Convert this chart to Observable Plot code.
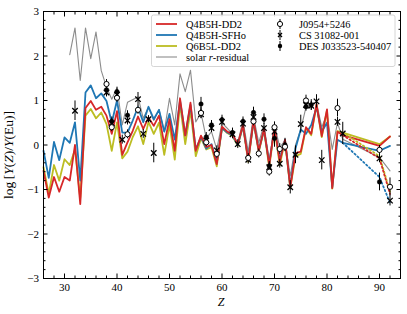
<!DOCTYPE html>
<html><head><meta charset="utf-8">
<script src="https://cdn.jsdelivr.net/npm/d3@7"></script>
<script src="https://cdn.jsdelivr.net/npm/@observablehq/plot@0.6"></script>
<style>
body{margin:0;background:#fff;}
#wrap{position:relative;width:407px;height:314px;font-family:"Liberation Serif","DejaVu Serif",serif;}
#wrap svg{display:block;}
#legend{position:absolute;left:0;top:0;}
</style></head><body><div id="wrap"></div>
<script>
// ---- model abundance patterns (log Y(Z)/Y(Eu)) ----
const zModel = [26,27,28,29,30,31,32,33,34,35,36,37,38,39,40,41,42,43,44,45,46,47,48,49,50,51,52,53,54,55,56,57,58,59,60,61,62,63,64,65,66,67,68,69,70,71,72,73,74,75,76,77,78,79,80,81,82,83,90,92];
const redDD2 = [-0.58,-1.18,-0.72,-1.05,-0.72,-0.80,0.00,-1.33,0.83,0.99,0.79,0.86,0.66,0.25,0.76,-0.22,0.06,0.32,0.64,0.36,0.62,0.43,0.66,0.02,0.58,-0.13,1.05,0.21,0.95,-0.13,0.21,-0.04,0.00,-0.43,0.41,0.30,0.24,0.02,0.45,-0.35,0.55,-0.13,0.36,-0.45,0.42,-0.38,0.12,-0.95,-0.18,-0.15,0.40,0.25,0.92,0.20,0.80,-0.97,0.30,0.22,-0.02,0.19];
const blueSFHo = [-0.13,-0.74,0.07,-0.34,0.17,0.05,0.51,-0.80,1.18,1.34,1.05,1.16,0.99,0.50,1.00,0.28,0.28,0.55,0.85,0.51,0.86,0.58,0.79,0.30,0.70,0.12,1.00,0.22,0.90,-0.10,0.18,-0.08,0.02,-0.40,0.38,0.28,0.22,0.00,0.43,-0.33,0.53,-0.12,0.34,-0.42,0.40,-0.33,0.12,-0.93,-0.08,0.35,0.25,0.45,0.85,0.30,0.50,-0.95,0.12,0.05,-0.13,-0.02];
const oliveQ6 = [-0.50,-1.10,-0.45,-0.80,-0.32,-0.45,-0.10,-1.20,0.66,0.81,0.60,0.73,0.47,-0.13,0.51,-0.30,-0.15,0.18,0.42,0.02,0.52,0.25,0.50,-0.22,0.45,-0.33,0.92,0.02,0.78,-0.25,0.15,-0.10,-0.05,-0.48,0.38,0.27,0.20,-0.02,0.42,-0.38,0.52,-0.16,0.33,-0.50,0.38,-0.45,0.10,-0.97,-0.25,-0.20,0.38,0.22,0.90,0.18,0.78,-0.98,0.31,0.28,0.02,0.19];
// dotted variants beyond the third peak
const zDot = [83,90,92];
const redDot = [0.22,-0.30,-1.10];
const blueDot = [0.05,-0.72,-1.30];
const oliveDot = [0.28,-0.25,-1.05];
// solar r-residual
const zSolar = [31,32,33,34,35,36,37,38,39,40,41,42,44,45,46,47,48,49,50,51,52,53,54,55,56,57,58,59,60,62,63,64,65,66,67,68,69,70,71,72,73,74,75,76,77,78,79,80,81,82,83,90,92];
const solar = [2.03,2.63,1.45,2.63,1.94,2.54,1.67,1.30,1.03,1.28,0.45,0.96,1.08,0.60,0.85,0.55,0.80,0.30,1.05,0.45,1.60,1.20,1.68,0.52,0.72,0.15,0.30,-0.10,0.50,0.25,0.05,0.55,-0.15,0.65,0.05,0.45,-0.35,0.45,-0.05,0.10,-0.70,0.00,0.35,0.85,0.95,0.95,0.40,0.70,-0.10,0.50,0.13,-0.28,-0.58];
// ---- stars ----
const zJ0954 = [38,39,40,42,44,56,57,59,65,66,67,69,70,71,72,76,82,90,92];
const vJ0954 = [1.37,0.40,1.06,0.24,0.79,0.72,0.06,-0.20,-0.29,0.53,-0.19,-0.60,0.40,-0.09,-0.04,1.00,0.83,-0.11,-0.94];
const eJ0954 = [0.10,0.10,0.10,0.10,0.10,0.12,0.10,0.10,0.10,0.10,0.10,0.10,0.12,0.12,0.10,0.12,0.20,0.10,0.20];
const zCS = [32,38,39,40,41,42,44,45,46,47,56,57,58,59,60,62,63,64,65,66,68,69,70,71,73,74,75,76,77,78,79,82,83,90,92];
const vCS = [0.77,1.18,0.49,1.13,0.12,0.55,1.03,0.25,0.58,-0.18,0.69,0.10,0.38,-0.12,0.52,0.24,0.02,0.48,-0.33,0.63,0.38,-0.50,0.30,-0.42,-0.95,-0.22,0.47,0.90,0.88,0.98,-0.34,0.52,0.26,-0.30,-1.25];
const eCS = [0.22,0.10,0.10,0.10,0.10,0.10,0.15,0.10,0.08,0.22,0.10,0.10,0.10,0.10,0.10,0.10,0.10,0.10,0.10,0.10,0.10,0.10,0.12,0.10,0.15,0.20,0.20,0.10,0.10,0.15,0.22,0.10,0.25,0.10,0.12];
const zDES = [38,39,40,42,56,57,58,60,62,64,66,68,69,70,72,76,77,90];
const vDES = [1.24,0.53,1.20,0.67,0.92,0.18,0.45,0.57,0.28,0.53,0.73,0.58,-0.47,0.15,0.00,0.86,0.90,-0.83];
const eDES = [0.10,0.10,0.10,0.10,0.15,0.10,0.10,0.10,0.10,0.10,0.12,0.12,0.10,0.20,0.15,0.10,0.12,0.20];
// ---- axes ticks ----
const xMajor = [30,40,50,60,70,80,90];
const xMinor = [26,28,32,34,36,38,42,44,46,48,52,54,56,58,62,64,66,68,72,74,76,78,82,84,86,88,92,94];
const yMajor = [-3,-2,-1,0,1,2,3];
const yMinor = d3.range(-3,3.001,0.2).map(v=>+v.toFixed(1)).filter(v=>!yMajor.includes(v));

const series = (zs, vs) => zs.map((z,i)=>({z, v: vs[i]}));
const stars = (zs, vs, es) => zs.map((z,i)=>({z, v: vs[i], e: es[i]}));
const C = {red:"#d62728", blue:"#1f77b4", olive:"#bcbd22", gray:"#8c8c8c"};
const fmt = d => d < 0 ? "\u2212" + Math.abs(d) : String(d);
const J = stars(zJ0954,vJ0954,eJ0954), CS = stars(zCS,vCS,eCS), DES = stars(zDES,vDES,eDES);

const chart = Plot.plot({
  width: 407, height: 314,
  marginLeft: 43, marginRight: 7, marginTop: 11, marginBottom: 36,
  x: {domain: [26, 94]},
  y: {domain: [-3, 3]},
  style: {fontFamily: '"Liberation Serif", serif', fontSize: "11px", background: "white", color: "black"},
  marks: [
    Plot.line(series(zSolar, solar), {x:"z", y:"v", stroke:C.gray, strokeWidth:1.1}),
    Plot.line(series(zModel, oliveQ6), {x:"z", y:"v", stroke:C.olive, strokeWidth:1.8}),
    Plot.line(series(zModel, blueSFHo), {x:"z", y:"v", stroke:C.blue, strokeWidth:1.8}),
    Plot.line(series(zModel, redDD2), {x:"z", y:"v", stroke:C.red, strokeWidth:1.8}),
    Plot.line(series(zDot, oliveDot), {x:"z", y:"v", stroke:C.olive, strokeWidth:1.8, strokeDasharray:"1.5,2.5"}),
    Plot.line(series(zDot, blueDot), {x:"z", y:"v", stroke:C.blue, strokeWidth:1.8, strokeDasharray:"1.5,2.5"}),
    Plot.line(series(zDot, redDot), {x:"z", y:"v", stroke:C.red, strokeWidth:1.8, strokeDasharray:"1.5,2.5"}),
    Plot.ruleX(J, {x:"z", y1:d=>d.v-d.e, y2:d=>d.v+d.e, stroke:"black", strokeWidth:1}),
    Plot.ruleX(CS, {x:"z", y1:d=>d.v-d.e, y2:d=>d.v+d.e, stroke:"black", strokeWidth:1}),
    Plot.ruleX(DES, {x:"z", y1:d=>d.v-d.e, y2:d=>d.v+d.e, stroke:"black", strokeWidth:1}),
    Plot.dot(CS, {x:"z", y:"v", symbol:"times", r:2.6, stroke:"black", strokeWidth:1.3}),
    Plot.dot(DES, {x:"z", y:"v", r:2.2, fill:"black", stroke:"black", strokeWidth:0.6}),
    Plot.dot(J, {x:"z", y:"v", r:2.6, fill:"white", stroke:"black", strokeWidth:1}),
    Plot.frame({stroke:"black", strokeWidth:1}),
    Plot.axisX({ticks:xMajor, tickSize:-4.5, tickPadding:9, tickFormat:fmt, label:null}),
    Plot.axisX({ticks:xMinor, tickSize:-2.5, tickFormat:()=>"", label:null}),
    Plot.axisX({anchor:"top", ticks:xMajor, tickSize:-4.5, tickFormat:()=>"", label:null}),
    Plot.axisX({anchor:"top", ticks:xMinor, tickSize:-2.5, tickFormat:()=>"", label:null}),
    Plot.axisY({ticks:yMajor, tickSize:-4.5, tickPadding:9, tickFormat:fmt, label:null}),
    Plot.axisY({ticks:yMinor, tickSize:-2.5, tickFormat:()=>"", label:null}),
    Plot.axisY({anchor:"right", ticks:yMajor, tickSize:-4.5, tickFormat:()=>"", label:null}),
    Plot.axisY({anchor:"right", ticks:yMinor, tickSize:-2.5, tickFormat:()=>"", label:null})
  ]
});
const wrap = document.getElementById("wrap");
wrap.appendChild(chart);

// axis titles with italic parts
const svg = d3.select(chart);
const yl = svg.append("text").attr("transform","translate(13,155) rotate(-90)")
  .attr("text-anchor","middle").attr("font-size",13.5).attr("fill","black");
[["log\u2009[",false],["Y",true],["(",false],["Z",true],[")/",false],["Y",true],["(Eu)]",false]].forEach(([t,it])=>{
  yl.append("tspan").text(t).attr("font-style", it ? "italic" : null);
});
svg.append("text").attr("x",221).attr("y",306).attr("text-anchor","middle")
  .attr("font-size",12).attr("font-style","italic").attr("fill","black").text("Z");

// legend
const leg = d3.select(wrap).append("svg").attr("id","legend").attr("width",407).attr("height",314);
leg.append("rect").attr("x",151.5).attr("y",15).attr("width",243.5).attr("height",51.5)
  .attr("rx",2).attr("fill","white").attr("fill-opacity",0.85).attr("stroke","#cccccc").attr("stroke-width",0.8);
const lineItems = [["Q4B5H-DD2",C.red,1.8],["Q4B5H-SFHo",C.blue,1.8],["Q6B5L-DD2",C.olive,1.8],["solar ",C.gray,1.1]];
lineItems.forEach(([lab,col,w],i)=>{
  const y = 24 + i*11;
  leg.append("line").attr("x1",156).attr("x2",177).attr("y1",y).attr("y2",y).attr("stroke",col).attr("stroke-width",w);
  const t = leg.append("text").attr("x",186).attr("y",y+3.5).attr("font-size",10.4).attr("fill","black");
  t.append("tspan").text(lab);
  if (i===3) { t.append("tspan").attr("font-style","italic").text("r"); t.append("tspan").text("-residual"); }
});
const starItems = ["J0954+5246","CS 31082-001","DES J033523-540407"];
starItems.forEach((lab,i)=>{
  const y = 24 + i*11, x = 280;
  leg.append("line").attr("x1",x).attr("x2",x).attr("y1",y-5).attr("y2",y+5).attr("stroke","black").attr("stroke-width",1);
  if (i===0) leg.append("circle").attr("cx",x).attr("cy",y).attr("r",2.6).attr("fill","white").attr("stroke","black");
  if (i===1) leg.append("path").attr("d",`M${x-2},${y-2}L${x+2},${y+2}M${x-2},${y+2}L${x+2},${y-2}`).attr("stroke","black").attr("stroke-width",1.3);
  if (i===2) leg.append("circle").attr("cx",x).attr("cy",y).attr("r",2.2).attr("fill","black");
  leg.append("text").attr("x",299).attr("y",y+3.5).attr("font-size",10.4).attr("fill","black").text(lab);
});
</script></body></html>
